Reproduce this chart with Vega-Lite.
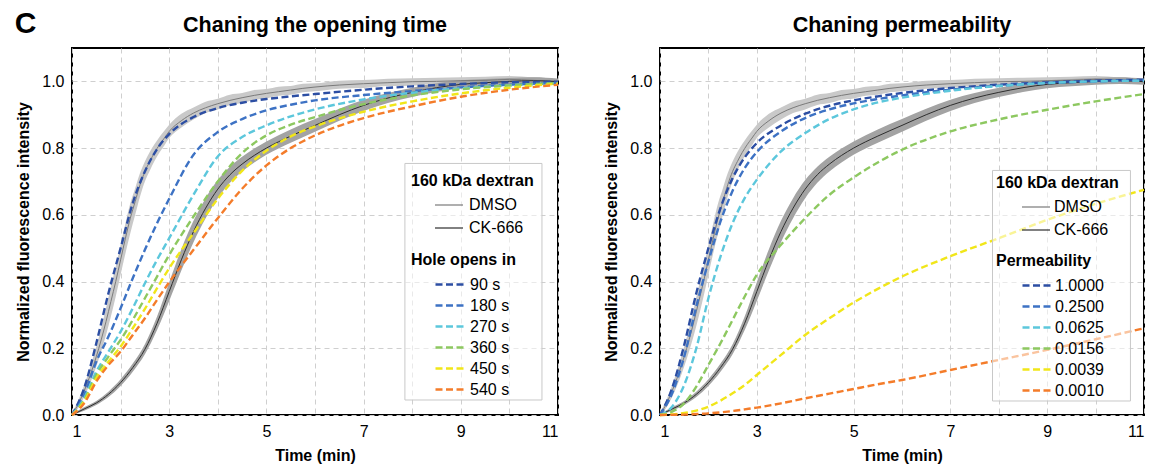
{
"$schema":"https://vega.github.io/schema/vega-lite/v6.json",
"background":"white",
"padding":{"left":14,"top":8,"right":8,"bottom":2},
"config":{
 "font":"Liberation Sans",
 "view":{"stroke":"black","strokeWidth":2},
 "axis":{"labelFont":"Liberation Sans","labelFontSize":16,"labelColor":"black","titleFont":"Liberation Sans","titleFontSize":16,"titleFontWeight":"bold","titleColor":"black","domain":false,"ticks":false,"grid":true,"gridColor":"#cfcfcf","gridDash":[5,4],"gridWidth":1},
 "title":{"font":"Liberation Sans","fontSize":21.5,"fontWeight":"bold","color":"black"},
 "legend":{"labelFont":"Liberation Sans","labelFontSize":16,"labelColor":"black","titleFont":"Liberation Sans","titleFontSize":16,"titleFontWeight":"bold","titleColor":"black","rowPadding":4,"titlePadding":8,"labelOffset":12}
},
"datasets":{
 "obs":[
  {"s":"DMSO","t":1.0,"v":0,"lo":0,"hi":0.004},{"s":"DMSO","t":1.1,"v":0.025,"lo":0.015,"hi":0.035},{"s":"DMSO","t":1.2,"v":0.055,"lo":0.04,"hi":0.07},{"s":"DMSO","t":1.3,"v":0.09,"lo":0.07,"hi":0.11},{"s":"DMSO","t":1.4,"v":0.13,"lo":0.105,"hi":0.155},{"s":"DMSO","t":1.5,"v":0.175,"lo":0.145,"hi":0.205},{"s":"DMSO","t":1.6,"v":0.225,"lo":0.19,"hi":0.26},{"s":"DMSO","t":1.7,"v":0.28,"lo":0.24,"hi":0.32},{"s":"DMSO","t":1.8,"v":0.34,"lo":0.295,"hi":0.385},{"s":"DMSO","t":1.9,"v":0.4,"lo":0.355,"hi":0.445},{"s":"DMSO","t":2.0,"v":0.465,"lo":0.42,"hi":0.51},{"s":"DMSO","t":2.1,"v":0.53,"lo":0.485,"hi":0.575},{"s":"DMSO","t":2.2,"v":0.59,"lo":0.545,"hi":0.635},{"s":"DMSO","t":2.3,"v":0.64,"lo":0.6,"hi":0.68},{"s":"DMSO","t":2.4,"v":0.69,"lo":0.655,"hi":0.725},{"s":"DMSO","t":2.5,"v":0.73,"lo":0.7,"hi":0.76},{"s":"DMSO","t":2.6,"v":0.76,"lo":0.732,"hi":0.788},{"s":"DMSO","t":2.7,"v":0.787,"lo":0.762,"hi":0.812},{"s":"DMSO","t":2.8,"v":0.81,"lo":0.787,"hi":0.833},{"s":"DMSO","t":2.9,"v":0.83,"lo":0.808,"hi":0.852},{"s":"DMSO","t":3.0,"v":0.85,"lo":0.83,"hi":0.87},{"s":"DMSO","t":3.25,"v":0.882,"lo":0.862,"hi":0.903},{"s":"DMSO","t":3.5,"v":0.905,"lo":0.886,"hi":0.922},{"s":"DMSO","t":3.75,"v":0.921,"lo":0.905,"hi":0.939},{"s":"DMSO","t":4.0,"v":0.933,"lo":0.916,"hi":0.948},{"s":"DMSO","t":4.25,"v":0.943,"lo":0.929,"hi":0.96},{"s":"DMSO","t":4.5,"v":0.951,"lo":0.935,"hi":0.965},{"s":"DMSO","t":4.75,"v":0.958,"lo":0.945,"hi":0.974},{"s":"DMSO","t":5.0,"v":0.964,"lo":0.949,"hi":0.977},{"s":"DMSO","t":5.25,"v":0.969,"lo":0.957,"hi":0.984},{"s":"DMSO","t":5.5,"v":0.974,"lo":0.96,"hi":0.986},{"s":"DMSO","t":5.75,"v":0.979,"lo":0.967,"hi":0.993},{"s":"DMSO","t":6.0,"v":0.983,"lo":0.97,"hi":0.994},{"s":"DMSO","t":6.5,"v":0.989,"lo":0.978,"hi":1.002},{"s":"DMSO","t":7.0,"v":0.993,"lo":0.98,"hi":1.004},{"s":"DMSO","t":7.5,"v":0.996,"lo":0.986,"hi":1.008},{"s":"DMSO","t":8.0,"v":0.999,"lo":0.987,"hi":1.009},{"s":"DMSO","t":8.5,"v":1.0,"lo":0.991,"hi":1.011},{"s":"DMSO","t":9.0,"v":1.002,"lo":0.991,"hi":1.012},{"s":"DMSO","t":9.5,"v":1.003,"lo":0.994,"hi":1.014},{"s":"DMSO","t":10.0,"v":1.006,"lo":0.995,"hi":1.016},{"s":"DMSO","t":10.5,"v":1.003,"lo":0.995,"hi":1.012},{"s":"DMSO","t":11.0,"v":1.0,"lo":0.992,"hi":1.008},
  {"s":"CK-666","t":1.0,"v":0,"lo":0,"hi":0.003},{"s":"CK-666","t":1.25,"v":0.018,"lo":0.013,"hi":0.023},{"s":"CK-666","t":1.5,"v":0.036,"lo":0.03,"hi":0.042},{"s":"CK-666","t":1.75,"v":0.062,"lo":0.054,"hi":0.07},{"s":"CK-666","t":2.0,"v":0.097,"lo":0.087,"hi":0.107},{"s":"CK-666","t":2.25,"v":0.142,"lo":0.13,"hi":0.154},{"s":"CK-666","t":2.5,"v":0.197,"lo":0.182,"hi":0.212},{"s":"CK-666","t":2.75,"v":0.275,"lo":0.255,"hi":0.295},{"s":"CK-666","t":3.0,"v":0.37,"lo":0.342,"hi":0.398},{"s":"CK-666","t":3.25,"v":0.465,"lo":0.433,"hi":0.497},{"s":"CK-666","t":3.5,"v":0.55,"lo":0.518,"hi":0.582},{"s":"CK-666","t":3.75,"v":0.62,"lo":0.59,"hi":0.65},{"s":"CK-666","t":4.0,"v":0.677,"lo":0.65,"hi":0.704},{"s":"CK-666","t":4.25,"v":0.72,"lo":0.696,"hi":0.744},{"s":"CK-666","t":4.5,"v":0.752,"lo":0.73,"hi":0.774},{"s":"CK-666","t":4.75,"v":0.778,"lo":0.757,"hi":0.799},{"s":"CK-666","t":5.0,"v":0.8,"lo":0.78,"hi":0.82},{"s":"CK-666","t":5.5,"v":0.836,"lo":0.816,"hi":0.856},{"s":"CK-666","t":6.0,"v":0.868,"lo":0.849,"hi":0.887},{"s":"CK-666","t":6.5,"v":0.9,"lo":0.882,"hi":0.918},{"s":"CK-666","t":7.0,"v":0.928,"lo":0.911,"hi":0.945},{"s":"CK-666","t":7.5,"v":0.95,"lo":0.935,"hi":0.965},{"s":"CK-666","t":8.0,"v":0.967,"lo":0.953,"hi":0.981},{"s":"CK-666","t":8.5,"v":0.981,"lo":0.968,"hi":0.994},{"s":"CK-666","t":9.0,"v":0.991,"lo":0.979,"hi":1.003},{"s":"CK-666","t":9.5,"v":0.996,"lo":0.985,"hi":1.007},{"s":"CK-666","t":10.0,"v":1.0,"lo":0.99,"hi":1.01},{"s":"CK-666","t":10.5,"v":1.002,"lo":0.992,"hi":1.012},{"s":"CK-666","t":11.0,"v":0.999,"lo":0.99,"hi":1.008}
 ],
 "left":[
  {"s":"90 s","t":1,"v":0},{"s":"90 s","t":1.25,"v":0.08},{"s":"90 s","t":1.5,"v":0.215},{"s":"90 s","t":1.75,"v":0.365},{"s":"90 s","t":2,"v":0.5},{"s":"90 s","t":2.25,"v":0.635},{"s":"90 s","t":2.5,"v":0.73},{"s":"90 s","t":2.75,"v":0.797},{"s":"90 s","t":3,"v":0.842},{"s":"90 s","t":3.5,"v":0.893},{"s":"90 s","t":4,"v":0.92},{"s":"90 s","t":4.5,"v":0.936},{"s":"90 s","t":5,"v":0.947},{"s":"90 s","t":5.5,"v":0.955},{"s":"90 s","t":6,"v":0.962},{"s":"90 s","t":7,"v":0.975},{"s":"90 s","t":8,"v":0.985},{"s":"90 s","t":9,"v":0.992},{"s":"90 s","t":10,"v":0.997},{"s":"90 s","t":11,"v":0.999},
  {"s":"180 s","t":1,"v":0},{"s":"180 s","t":1.25,"v":0.06},{"s":"180 s","t":1.5,"v":0.16},{"s":"180 s","t":1.75,"v":0.235},{"s":"180 s","t":2,"v":0.32},{"s":"180 s","t":2.25,"v":0.41},{"s":"180 s","t":2.5,"v":0.495},{"s":"180 s","t":2.75,"v":0.575},{"s":"180 s","t":3,"v":0.648},{"s":"180 s","t":3.5,"v":0.78},{"s":"180 s","t":4,"v":0.848},{"s":"180 s","t":4.5,"v":0.887},{"s":"180 s","t":5,"v":0.913},{"s":"180 s","t":5.5,"v":0.93},{"s":"180 s","t":6,"v":0.943},{"s":"180 s","t":7,"v":0.959},{"s":"180 s","t":8,"v":0.971},{"s":"180 s","t":9,"v":0.982},{"s":"180 s","t":10,"v":0.99},{"s":"180 s","t":11,"v":0.995},
  {"s":"270 s","t":1,"v":0},{"s":"270 s","t":1.25,"v":0.05},{"s":"270 s","t":1.5,"v":0.13},{"s":"270 s","t":1.75,"v":0.19},{"s":"270 s","t":2,"v":0.25},{"s":"270 s","t":2.25,"v":0.32},{"s":"270 s","t":2.5,"v":0.395},{"s":"270 s","t":2.75,"v":0.465},{"s":"270 s","t":3,"v":0.53},{"s":"270 s","t":3.5,"v":0.66},{"s":"270 s","t":4,"v":0.775},{"s":"270 s","t":4.5,"v":0.833},{"s":"270 s","t":5,"v":0.868},{"s":"270 s","t":5.5,"v":0.895},{"s":"270 s","t":6,"v":0.916},{"s":"270 s","t":7,"v":0.946},{"s":"270 s","t":8,"v":0.966},{"s":"270 s","t":9,"v":0.979},{"s":"270 s","t":10,"v":0.988},{"s":"270 s","t":11,"v":0.994},
  {"s":"360 s","t":1,"v":0},{"s":"360 s","t":1.25,"v":0.045},{"s":"360 s","t":1.5,"v":0.12},{"s":"360 s","t":1.75,"v":0.175},{"s":"360 s","t":2,"v":0.225},{"s":"360 s","t":2.25,"v":0.285},{"s":"360 s","t":2.5,"v":0.35},{"s":"360 s","t":2.75,"v":0.415},{"s":"360 s","t":3,"v":0.48},{"s":"360 s","t":3.5,"v":0.595},{"s":"360 s","t":4,"v":0.7},{"s":"360 s","t":4.5,"v":0.785},{"s":"360 s","t":5,"v":0.838},{"s":"360 s","t":5.5,"v":0.87},{"s":"360 s","t":6,"v":0.893},{"s":"360 s","t":7,"v":0.932},{"s":"360 s","t":8,"v":0.958},{"s":"360 s","t":9,"v":0.976},{"s":"360 s","t":10,"v":0.988},{"s":"360 s","t":11,"v":0.995},
  {"s":"450 s","t":1,"v":0},{"s":"450 s","t":1.25,"v":0.04},{"s":"450 s","t":1.5,"v":0.11},{"s":"450 s","t":1.75,"v":0.16},{"s":"450 s","t":2,"v":0.205},{"s":"450 s","t":2.25,"v":0.26},{"s":"450 s","t":2.5,"v":0.318},{"s":"450 s","t":2.75,"v":0.38},{"s":"450 s","t":3,"v":0.44},{"s":"450 s","t":3.5,"v":0.545},{"s":"450 s","t":4,"v":0.648},{"s":"450 s","t":4.5,"v":0.732},{"s":"450 s","t":5,"v":0.792},{"s":"450 s","t":5.5,"v":0.835},{"s":"450 s","t":6,"v":0.865},{"s":"450 s","t":7,"v":0.909},{"s":"450 s","t":8,"v":0.94},{"s":"450 s","t":9,"v":0.964},{"s":"450 s","t":10,"v":0.981},{"s":"450 s","t":11,"v":0.993},
  {"s":"540 s","t":1,"v":0},{"s":"540 s","t":1.25,"v":0.035},{"s":"540 s","t":1.5,"v":0.1},{"s":"540 s","t":1.75,"v":0.15},{"s":"540 s","t":2,"v":0.19},{"s":"540 s","t":2.25,"v":0.24},{"s":"540 s","t":2.5,"v":0.29},{"s":"540 s","t":2.75,"v":0.345},{"s":"540 s","t":3,"v":0.398},{"s":"540 s","t":3.5,"v":0.495},{"s":"540 s","t":4,"v":0.59},{"s":"540 s","t":4.5,"v":0.678},{"s":"540 s","t":5,"v":0.748},{"s":"540 s","t":5.5,"v":0.8},{"s":"540 s","t":6,"v":0.838},{"s":"540 s","t":7,"v":0.89},{"s":"540 s","t":8,"v":0.925},{"s":"540 s","t":9,"v":0.954},{"s":"540 s","t":10,"v":0.975},{"s":"540 s","t":11,"v":0.99}
 ],
 "right":[
  {"s":"1.0000","t":1,"v":0},{"s":"1.0000","t":1.25,"v":0.08},{"s":"1.0000","t":1.5,"v":0.21},{"s":"1.0000","t":1.75,"v":0.365},{"s":"1.0000","t":2,"v":0.5},{"s":"1.0000","t":2.25,"v":0.62},{"s":"1.0000","t":2.5,"v":0.71},{"s":"1.0000","t":2.75,"v":0.772},{"s":"1.0000","t":3,"v":0.815},{"s":"1.0000","t":3.5,"v":0.868},{"s":"1.0000","t":4,"v":0.903},{"s":"1.0000","t":4.5,"v":0.927},{"s":"1.0000","t":5,"v":0.943},{"s":"1.0000","t":5.5,"v":0.955},{"s":"1.0000","t":6,"v":0.965},{"s":"1.0000","t":7,"v":0.98},{"s":"1.0000","t":8,"v":0.99},{"s":"1.0000","t":9,"v":0.997},{"s":"1.0000","t":10,"v":1.002},{"s":"1.0000","t":11,"v":1.005},
  {"s":"0.2500","t":1,"v":0},{"s":"0.2500","t":1.25,"v":0.065},{"s":"0.2500","t":1.5,"v":0.175},{"s":"0.2500","t":1.75,"v":0.325},{"s":"0.2500","t":2,"v":0.46},{"s":"0.2500","t":2.25,"v":0.58},{"s":"0.2500","t":2.5,"v":0.672},{"s":"0.2500","t":2.75,"v":0.74},{"s":"0.2500","t":3,"v":0.788},{"s":"0.2500","t":3.5,"v":0.85},{"s":"0.2500","t":4,"v":0.89},{"s":"0.2500","t":4.5,"v":0.916},{"s":"0.2500","t":5,"v":0.934},{"s":"0.2500","t":5.5,"v":0.947},{"s":"0.2500","t":6,"v":0.958},{"s":"0.2500","t":7,"v":0.975},{"s":"0.2500","t":8,"v":0.987},{"s":"0.2500","t":9,"v":0.995},{"s":"0.2500","t":10,"v":1.0},{"s":"0.2500","t":11,"v":1.003},
  {"s":"0.0625","t":1,"v":0},{"s":"0.0625","t":1.25,"v":0.025},{"s":"0.0625","t":1.5,"v":0.09},{"s":"0.0625","t":1.75,"v":0.2},{"s":"0.0625","t":2,"v":0.35},{"s":"0.0625","t":2.25,"v":0.475},{"s":"0.0625","t":2.5,"v":0.575},{"s":"0.0625","t":2.75,"v":0.65},{"s":"0.0625","t":3,"v":0.705},{"s":"0.0625","t":3.5,"v":0.79},{"s":"0.0625","t":4,"v":0.845},{"s":"0.0625","t":4.5,"v":0.887},{"s":"0.0625","t":5,"v":0.916},{"s":"0.0625","t":5.5,"v":0.937},{"s":"0.0625","t":6,"v":0.951},{"s":"0.0625","t":7,"v":0.972},{"s":"0.0625","t":8,"v":0.986},{"s":"0.0625","t":9,"v":0.995},{"s":"0.0625","t":10,"v":1.0},{"s":"0.0625","t":11,"v":1.002},
  {"s":"0.0156","t":1,"v":0},{"s":"0.0156","t":1.25,"v":0.01},{"s":"0.0156","t":1.5,"v":0.035},{"s":"0.0156","t":1.75,"v":0.085},{"s":"0.0156","t":2,"v":0.15},{"s":"0.0156","t":2.25,"v":0.215},{"s":"0.0156","t":2.5,"v":0.285},{"s":"0.0156","t":2.75,"v":0.355},{"s":"0.0156","t":3,"v":0.42},{"s":"0.0156","t":3.5,"v":0.51},{"s":"0.0156","t":4,"v":0.59},{"s":"0.0156","t":4.5,"v":0.66},{"s":"0.0156","t":5,"v":0.712},{"s":"0.0156","t":5.5,"v":0.757},{"s":"0.0156","t":6,"v":0.795},{"s":"0.0156","t":7,"v":0.85},{"s":"0.0156","t":8,"v":0.886},{"s":"0.0156","t":9,"v":0.915},{"s":"0.0156","t":10,"v":0.94},{"s":"0.0156","t":11,"v":0.962},
  {"s":"0.0039","t":1,"v":0},{"s":"0.0039","t":1.25,"v":0.002},{"s":"0.0039","t":1.5,"v":0.006},{"s":"0.0039","t":1.75,"v":0.013},{"s":"0.0039","t":2,"v":0.025},{"s":"0.0039","t":2.25,"v":0.043},{"s":"0.0039","t":2.5,"v":0.065},{"s":"0.0039","t":2.75,"v":0.09},{"s":"0.0039","t":3,"v":0.12},{"s":"0.0039","t":3.5,"v":0.18},{"s":"0.0039","t":4,"v":0.24},{"s":"0.0039","t":4.5,"v":0.29},{"s":"0.0039","t":5,"v":0.337},{"s":"0.0039","t":5.5,"v":0.378},{"s":"0.0039","t":6,"v":0.415},{"s":"0.0039","t":7,"v":0.476},{"s":"0.0039","t":8,"v":0.53},{"s":"0.0039","t":9,"v":0.585},{"s":"0.0039","t":10,"v":0.633},{"s":"0.0039","t":11,"v":0.675},
  {"s":"0.0010","t":1,"v":0},{"s":"0.0010","t":1.25,"v":0.0005},{"s":"0.0010","t":1.5,"v":0.001},{"s":"0.0010","t":1.75,"v":0.003},{"s":"0.0010","t":2,"v":0.005},{"s":"0.0010","t":2.25,"v":0.008},{"s":"0.0010","t":2.5,"v":0.012},{"s":"0.0010","t":2.75,"v":0.017},{"s":"0.0010","t":3,"v":0.022},{"s":"0.0010","t":3.5,"v":0.035},{"s":"0.0010","t":4,"v":0.05},{"s":"0.0010","t":4.5,"v":0.064},{"s":"0.0010","t":5,"v":0.078},{"s":"0.0010","t":5.5,"v":0.092},{"s":"0.0010","t":6,"v":0.105},{"s":"0.0010","t":7,"v":0.135},{"s":"0.0010","t":8,"v":0.165},{"s":"0.0010","t":9,"v":0.195},{"s":"0.0010","t":10,"v":0.227},{"s":"0.0010","t":11,"v":0.26}
 ],
 "box":[{"panel":"left"}]
},
"title":{"text":"C","fontSize":30,"anchor":"start","frame":"bounds","offset":-25},
"spacing":38,
"resolve":{"scale":{"x":"independent","y":"independent","color":"independent","stroke":"independent"},"legend":{"color":"independent","stroke":"independent"}},
"hconcat":[
 {
  "width":486,"height":367,
  "title":{"text":"Chaning the opening time","offset":12},
  "layer":[
   {"data":{"name":"obs"},"transform":[{"filter":"datum.s == 'DMSO'"}],"mark":{"type":"area","interpolate":"monotone","fill":"#c9c9c9"},
    "encoding":{
     "x":{"field":"t","type":"quantitative","scale":{"domain":[1,11],"nice":false,"zero":false},"axis":{"values":[1,2,3,4,5,6,7,8,9,10,11],"labelExpr":"datum.value % 2 == 1 ? datum.label : ''","title":"Time (min)","labelPadding":8,"titlePadding":8}},
     "y":{"field":"lo","type":"quantitative","scale":{"domain":[0,1.1],"nice":false},"axis":{"values":[0,0.2,0.4,0.6,0.8,1.0],"format":".1f","title":"Normalized fluorescence intensity","labelPadding":8,"titlePadding":10}},
     "y2":{"field":"hi"}}},
   {"data":{"name":"obs"},"transform":[{"filter":"datum.s == 'CK-666'"}],"mark":{"type":"area","interpolate":"monotone","fill":"#a3a3a3"},
    "encoding":{"x":{"field":"t","type":"quantitative"},"y":{"field":"lo","type":"quantitative"},"y2":{"field":"hi"}}},
   {"data":{"name":"obs"},"mark":{"type":"line","strokeWidth":1,"interpolate":"monotone"},
    "encoding":{"x":{"field":"t","type":"quantitative"},"y":{"field":"v","type":"quantitative"},
     "stroke":{"field":"s","type":"nominal","scale":{"domain":["DMSO","CK-666"],"range":["#7a7a7a","#2e2e2e"]},
     "legend":{"title":"160 kDa dextran","orient":"none","legendX":339,"legendY":125,"rowPadding":7,"symbolType":"M-2,0H2","symbolSize":196,"symbolStrokeWidth":1.2,"symbolOffset":30}}}},
   {"data":{"name":"left"},"mark":{"type":"line","strokeWidth":2.4,"strokeDash":[7,3.5],"interpolate":"monotone"},
    "encoding":{"x":{"field":"t","type":"quantitative"},"y":{"field":"v","type":"quantitative"},
     "color":{"field":"s","type":"nominal","scale":{"domain":["90 s","180 s","270 s","360 s","450 s","540 s"],"range":["#2c4ea3","#3d72c4","#5cc7dc","#8dc860","#f1e619","#f47c2a"]},
     "legend":{"title":"Hole opens in","orient":"none","legendX":339,"legendY":204,"symbolType":"M-2,0H2","symbolSize":196,"symbolStrokeWidth":2.4,"symbolDash":[7,3.5],"symbolOffset":30}}}},
   {"data":{"name":"box"},"mark":{"type":"rect","fill":"#ffffff","fillOpacity":0.55,"stroke":"#c8c8c8","strokeWidth":1},
    "encoding":{"x":{"datum":7.85,"type":"quantitative"},"x2":{"datum":10.67},"y":{"datum":0.754,"type":"quantitative"},"y2":{"datum":0.045}}}
  ]
 },
 {
  "width":484,"height":367,
  "title":{"text":"Chaning permeability","offset":12},
  "layer":[
   {"data":{"name":"obs"},"transform":[{"filter":"datum.s == 'DMSO'"}],"mark":{"type":"area","interpolate":"monotone","fill":"#c9c9c9"},
    "encoding":{
     "x":{"field":"t","type":"quantitative","scale":{"domain":[1,11],"nice":false,"zero":false},"axis":{"values":[1,2,3,4,5,6,7,8,9,10,11],"labelExpr":"datum.value % 2 == 1 ? datum.label : ''","title":"Time (min)","labelPadding":8,"titlePadding":8}},
     "y":{"field":"lo","type":"quantitative","scale":{"domain":[0,1.1],"nice":false},"axis":{"values":[0,0.2,0.4,0.6,0.8,1.0],"format":".1f","title":"Normalized fluorescence intensity","labelPadding":8,"titlePadding":10}},
     "y2":{"field":"hi"}}},
   {"data":{"name":"obs"},"transform":[{"filter":"datum.s == 'CK-666'"}],"mark":{"type":"area","interpolate":"monotone","fill":"#a3a3a3"},
    "encoding":{"x":{"field":"t","type":"quantitative"},"y":{"field":"lo","type":"quantitative"},"y2":{"field":"hi"}}},
   {"data":{"name":"obs"},"mark":{"type":"line","strokeWidth":1,"interpolate":"monotone"},
    "encoding":{"x":{"field":"t","type":"quantitative"},"y":{"field":"v","type":"quantitative"},
     "stroke":{"field":"s","type":"nominal","scale":{"domain":["DMSO","CK-666"],"range":["#7a7a7a","#2e2e2e"]},
     "legend":{"title":"160 kDa dextran","orient":"none","legendX":336,"legendY":127,"rowPadding":7,"labelOffset":10,"symbolType":"M-2,0H2","symbolSize":196,"symbolStrokeWidth":1.2,"symbolOffset":32}}}},
   {"data":{"name":"right"},"mark":{"type":"line","strokeWidth":2.4,"strokeDash":[7,3.5],"interpolate":"monotone"},
    "encoding":{"x":{"field":"t","type":"quantitative"},"y":{"field":"v","type":"quantitative"},
     "color":{"field":"s","type":"nominal","scale":{"domain":["1.0000","0.2500","0.0625","0.0156","0.0039","0.0010"],"range":["#2c4ea3","#3d72c4","#5cc7dc","#8dc860","#f1e619","#f47c2a"]},
     "legend":{"title":"Permeability","orient":"none","legendX":336,"legendY":205,"labelOffset":10,"symbolType":"M-2,0H2","symbolSize":196,"symbolStrokeWidth":2.4,"symbolDash":[7,3.5],"symbolOffset":32}}}},
   {"data":{"name":"box"},"mark":{"type":"rect","fill":"#ffffff","fillOpacity":0.55,"stroke":"#c8c8c8","strokeWidth":1},
    "encoding":{"x":{"datum":7.87,"type":"quantitative"},"x2":{"datum":10.72},"y":{"datum":0.733,"type":"quantitative"},"y2":{"datum":0.042}}}
  ]
 }
]
}
